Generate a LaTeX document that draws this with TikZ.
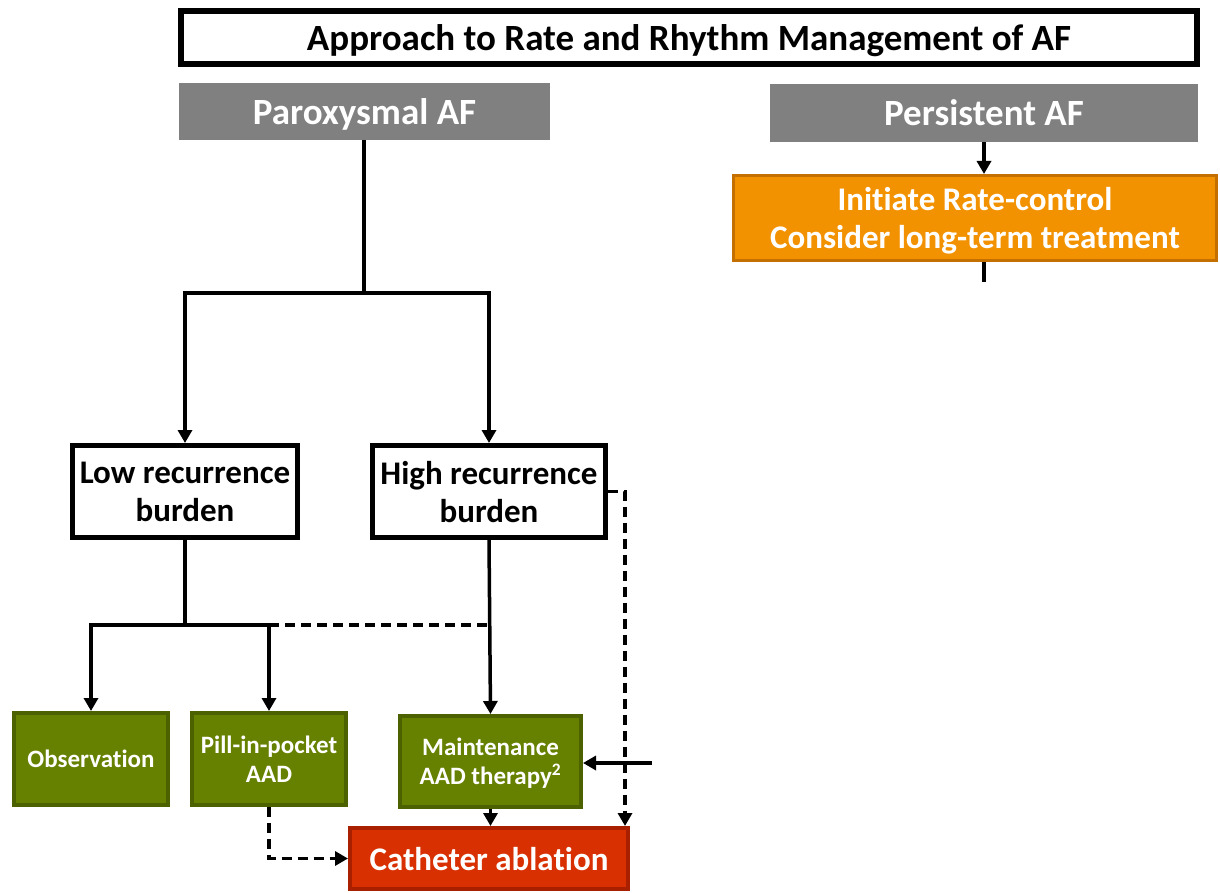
\documentclass[tikz,border=0pt]{standalone}
\usepackage{fontspec}
\setmainfont{Carlito}[Ligatures={NoCommon}]
\usetikzlibrary{arrows.meta,calc}
\definecolor{headgray}{RGB}{128,128,128}
\definecolor{rateorange}{RGB}{243,146,0}
\definecolor{rateorangedk}{RGB}{196,112,0}
\definecolor{aadgreen}{RGB}{102,128,0}
\definecolor{aadgreendk}{RGB}{76,98,0}
\definecolor{ablred}{RGB}{216,48,0}
\definecolor{ablreddk}{RGB}{168,32,0}
\newcommand{\fs}[2]{\fontsize{#1}{#2}\selectfont\bfseries}
\begin{document}
\begin{tikzpicture}[x=1pt,y=-1pt,
  box/.style={inner sep=0pt, align=center, text depth=0pt},
  titlebox/.style={box, draw=black, line width=6pt, fill=white, font=\fs{37}{42}},
  graybox/.style={box, fill=headgray, text=white, font=\fs{37}{42}},
  ratebox/.style={box, draw=rateorangedk, line width=3pt, fill=rateorange, text=white, font=\fs{33}{38}},
  burdenbox/.style={box, draw=black, line width=5pt, fill=white, font=\fs{33}{38}},
  aadbox/.style={box, draw=aadgreendk, line width=4pt, fill=aadgreen, text=white, font=\fs{25}{29}},
  ablbox/.style={box, draw=ablreddk, line width=4pt, fill=ablred, text=white, font=\fs{33}{38}},
  conn/.style={line width=3.5pt},
  tip/.style={-{Triangle[length=13pt,width=14pt]}},
  arr/.style={conn, tip},
  dashconn/.style={conn, dash pattern=on 10pt off 6pt},
]
\useasboundingbox (0,0) rectangle (1220,893);

% headers
\node[titlebox, minimum width=1016, minimum height=53] (title) at (689,37.5)
  {Approach to Rate and Rhythm Management of AF};
\node[graybox, minimum width=371, minimum height=57] (parox) at (364.5,111.5) {Paroxysmal AF};
\node[graybox, minimum width=428, minimum height=58] (pers) at (984,113) {Persistent AF};
\node[ratebox, minimum width=483, minimum height=85] (rate) at (975,218)
  {Initiate Rate-control\\Consider long-term treatment};

% recurrence burden
\node[burdenbox, minimum width=225, minimum height=92] (low) at (185,491.5) {Low recurrence\\burden};
\node[burdenbox, minimum width=233, minimum height=92] (high) at (489,491.5) {High recurrence\\burden};

% treatment options
\node[aadbox, minimum width=154, minimum height=92] (obs) at (91,759) {Observation};
\node[aadbox, minimum width=154, minimum height=92] (pill) at (269,759) {Pill-in-pocket\\AAD};
\node[aadbox, minimum width=181, minimum height=91] (maint) at (490.5,761.5) {Maintenance\\AAD therapy\textsuperscript{2}};
\node[ablbox, minimum width=278, minimum height=61] (cath) at (489,858.5) {Catheter ablation};

% junctions and free ends
\coordinate (j1) at (364,293);
\coordinate (j2) at (185,625);
\coordinate (rateend) at (984,282);
\coordinate (sidein) at (652,763);

% persistent AF branch
\draw[arr] (pers.south) -- (rate.north -| pers.south);
\draw[conn] (rate.south -| pers.south) -- (rateend);

% paroxysmal AF split
\draw[conn] (parox.south -| j1) -- (j1);
\draw[arr] (j1) -| (low.north);
\draw[arr] (j1) -| (high.north);

% low burden options
\draw[conn] (low.south) -- (j2);
\draw[arr] (j2) -| (obs.north);
\draw[arr] (j2) -| (pill.north);
\draw[dashconn] (pill.north |- j2) -- (maint.north |- j2);

% high burden options
\draw[arr] (high.south) -- (maint.north);
\draw[dashconn, tip] (high.east) -| ($(cath.north east)+(-5,0)$);
\draw[arr] (sidein) -- (maint.east |- sidein);
\draw[arr] (maint.south) -- (maint.south |- cath.north);
\draw[dashconn, tip] (pill.south) |- (cath.west);
\end{tikzpicture}
\end{document}
